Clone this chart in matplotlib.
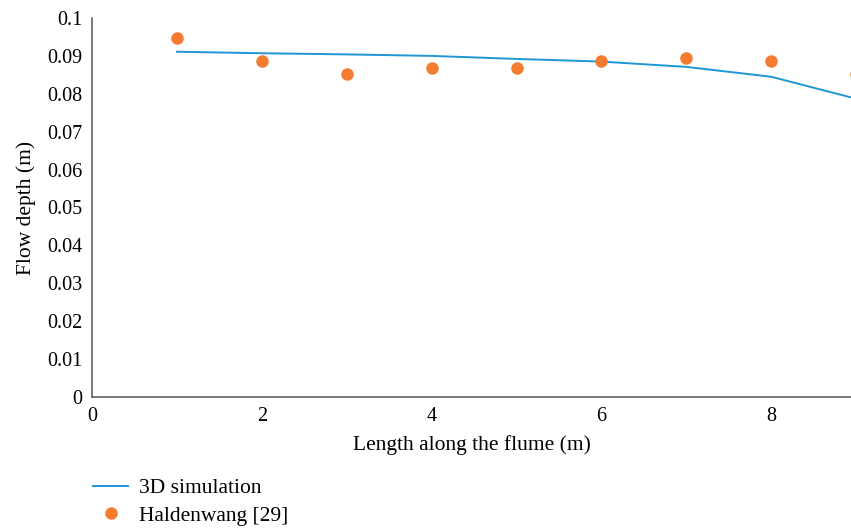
import matplotlib
matplotlib.use("Agg")
import matplotlib.pyplot as plt
from matplotlib.ticker import FuncFormatter

plt.rcParams['font.family'] = ['Liberation Serif', 'DejaVu Serif']

x_sim = [1, 2, 3, 4, 5, 6, 7, 8, 9]
y_sim = [0.0911, 0.0907, 0.0904, 0.0900, 0.0892, 0.0885, 0.0871, 0.0845, 0.0787]
x_exp = [1, 2, 3, 4, 5, 6, 7, 8, 9]
y_exp = [0.0946, 0.0887, 0.0852, 0.0869, 0.0869, 0.0887, 0.0895, 0.0887, 0.0852]
yticks = [0, 0.01, 0.02, 0.03, 0.04, 0.05, 0.06, 0.07, 0.08, 0.09, 0.1]
xticks = [0, 2, 4, 6, 8]

W, H = 851, 529
fig = plt.figure(figsize=(W/100, H/100), dpi=100)
ax = fig.add_axes([92/W, 1 - 397/H, (W - 92)/W, (397 - 18)/H])

ax.plot(x_sim, y_sim, color='#1f97d4', lw=1.4, label='3D simulation')
ax.plot(x_exp, y_exp, 'o', color='#f47c30', ms=9, mec='none', label='Haldenwang [29]', clip_on=False)

ax.set_xlim(0, (W - 92) / 84.9)
ax.set_ylim(0, 0.1)
ax.set_xticks(xticks)
ax.set_yticks(yticks)
ax.yaxis.set_major_formatter(FuncFormatter(lambda v, p: '0' if v == 0 else f'{v:.2f}'.rstrip('0')))
ax.tick_params(length=0, labelsize=14.5, pad=7)
for s in ['top', 'right']:
    ax.spines[s].set_visible(False)
for s in ['left', 'bottom']:
    ax.spines[s].set_color('#555555')
    ax.spines[s].set_linewidth(1.1)

ax.set_xlabel('Length along the flume (m)', fontsize=15.5, labelpad=7)
ax.set_ylabel('Flow depth (m)', fontsize=15.5, labelpad=8)

fig.legend(loc='upper left', bbox_to_anchor=(93/W, 1 - 478/H), frameon=False,
           fontsize=15.5, handlelength=1.63, handletextpad=0.5, labelspacing=0.35,
           borderaxespad=0, borderpad=0)

fig.savefig('out.png', dpi=100)
